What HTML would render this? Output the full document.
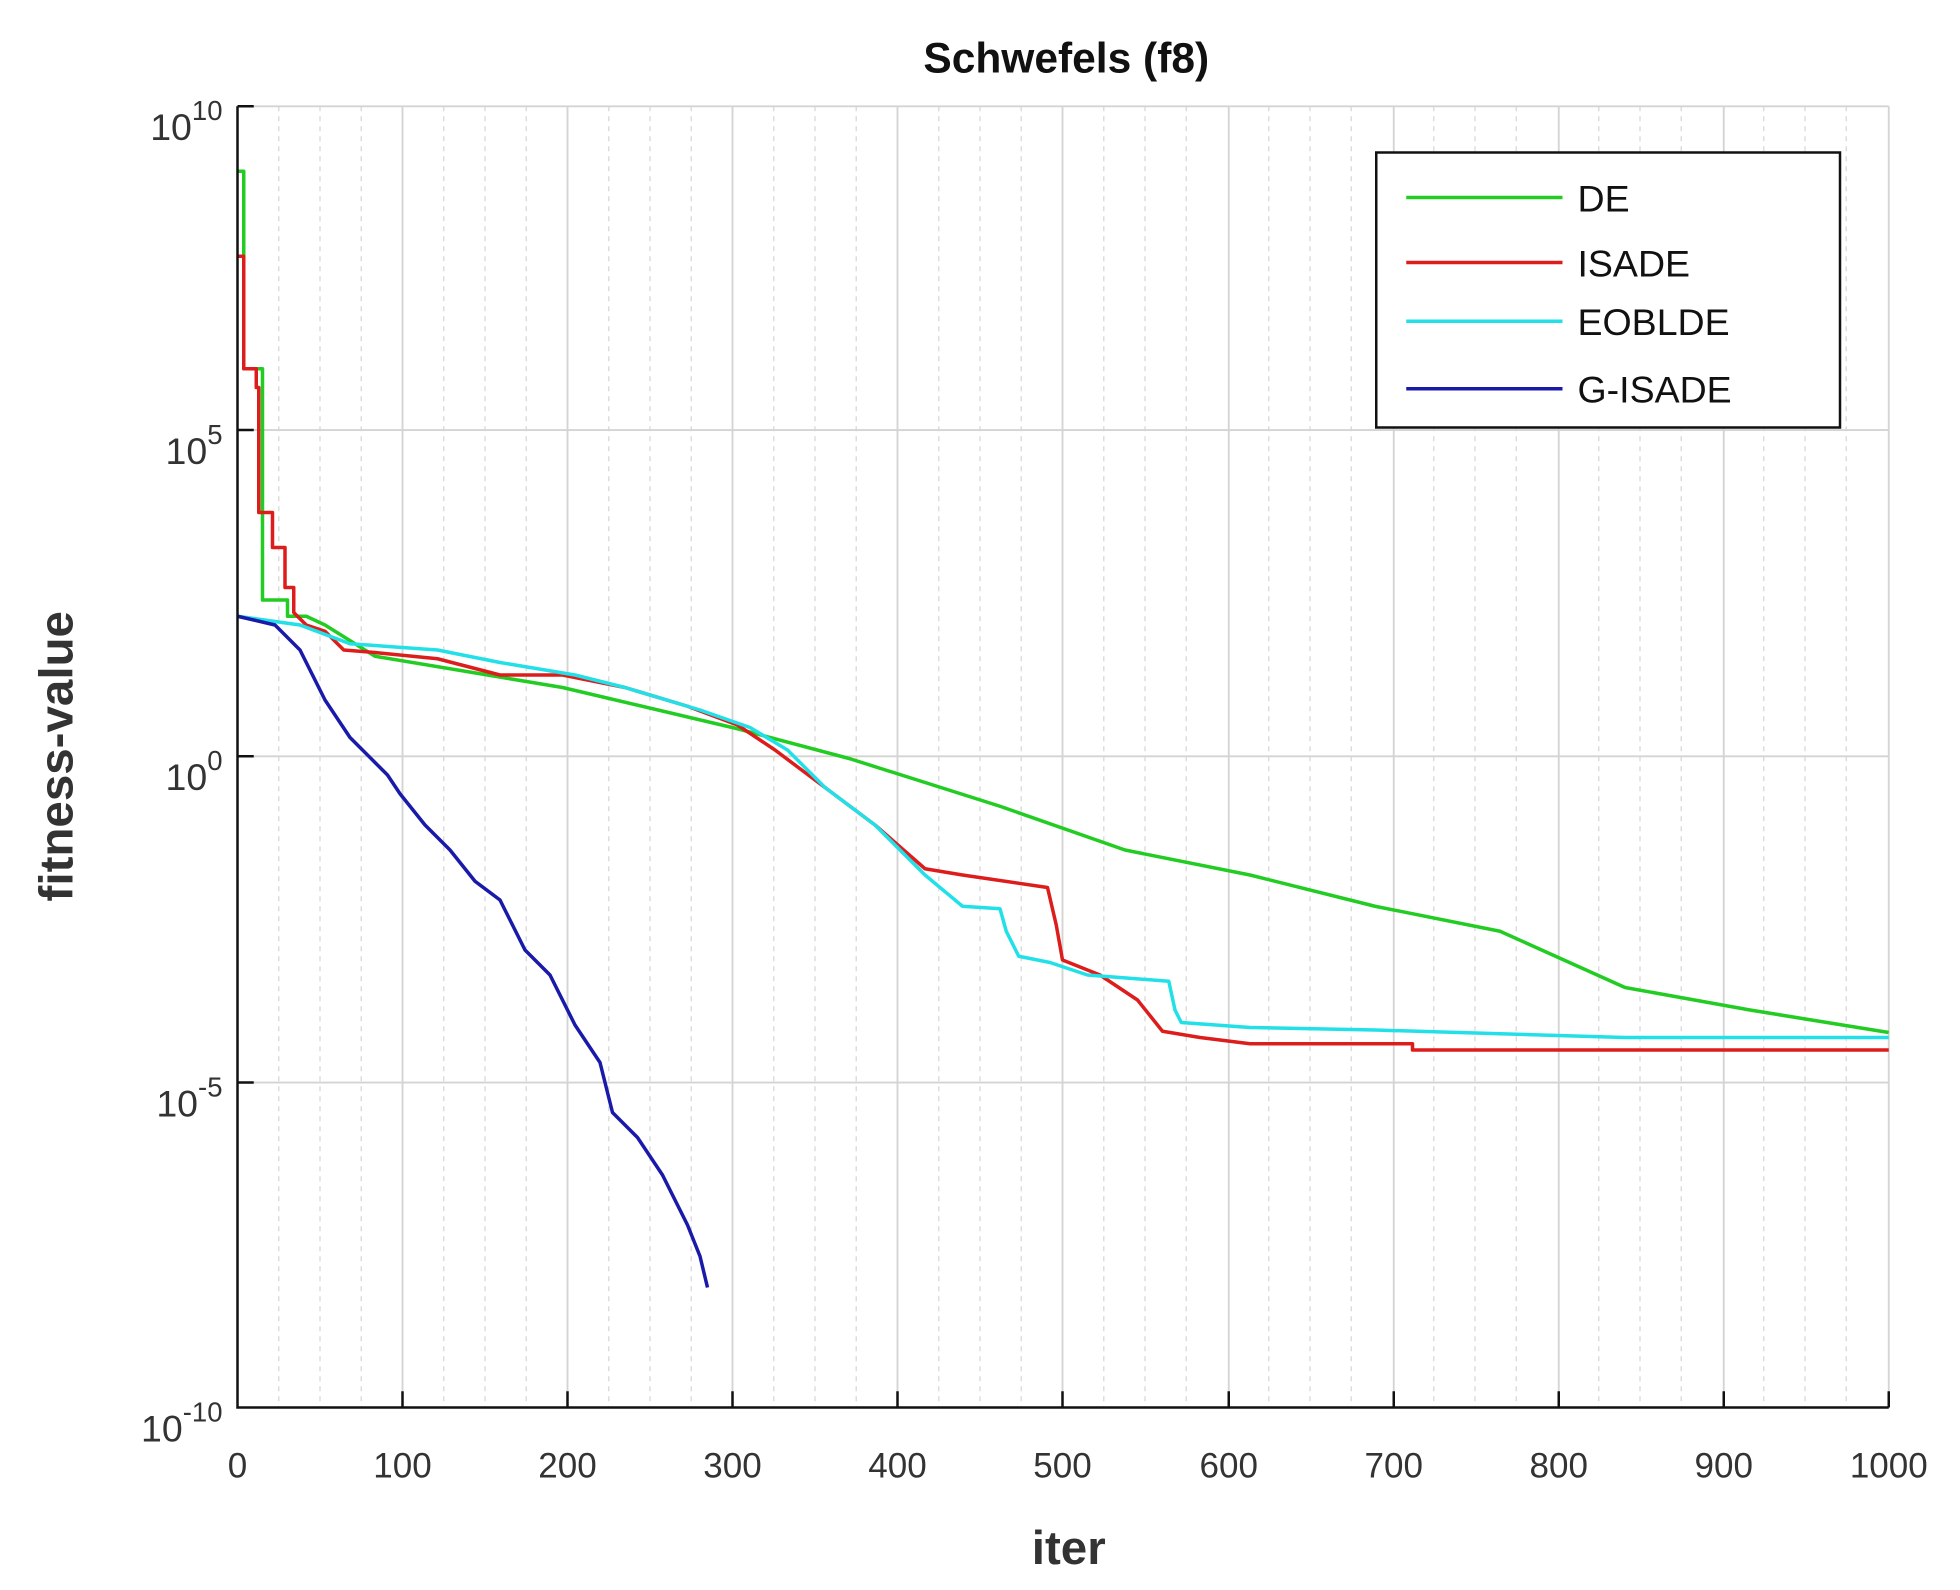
<!DOCTYPE html>
<html><head><style>html,body{margin:0;padding:0;background:#fff}svg{display:block}</style></head>
<body>
<svg width="1960" height="1590" viewBox="0 0 1568 1272" xmlns="http://www.w3.org/2000/svg" font-family="Liberation Sans, Arial, sans-serif">
<rect width="1568" height="1272" fill="#fff"/>
<g stroke="#ddd" stroke-width="1.2" stroke-dasharray="4,4">
<path d="M223 85V1126M256 85V1126M289 85V1126M355 85V1126M388 85V1126M421 85V1126M487 85V1126M520 85V1126M553 85V1126M619 85V1126M652 85V1126M685 85V1126M751 85V1126M784 85V1126M817 85V1126M883 85V1126M916 85V1126M949 85V1126M1015 85V1126M1048 85V1126M1081 85V1126M1147 85V1126M1180 85V1126M1213 85V1126M1279 85V1126M1312 85V1126M1345 85V1126M1411 85V1126M1444 85V1126M1477 85V1126"/>
</g>
<g stroke="#d4d4d4" stroke-width="1.5">
<path d="M322 85V1126M454 85V1126M586 85V1126M718 85V1126M850 85V1126M983 85V1126M1115 85V1126M1247 85V1126M1379 85V1126M1511 85V1126"/>
<path d="M190 85H1511M190 344H1511M190 605H1511M190 866H1511"/>
</g>
<g fill="none" stroke-width="2.8" stroke-linejoin="round">
<path stroke="#22cc22" d="M190 137H195V295H210V480H230V493H245L260 500L300 525L450 550L590 583L680 607L800 645L900 680L1000 700L1100 725L1200 745L1300 790L1400 808L1511 826"/>
<path stroke="#dd1c1c" d="M190 205H195V295H205V310H207V410H218V438H228V470H235V490L245 500L260 505L275 520L300 522L350 527L400 540L450 540L500 550L550 565L590 580L620 600L660 630L700 660L740 695L770 700L838 710L845 740L850 768L880 780L910 800L930 825L960 830L1000 835H1130V840H1511"/>
<path stroke="#22e0e8" d="M190 493L240 500L280 515L350 520L400 530L460 540L500 550L560 568L600 582L630 600L660 630L700 660L740 700L770 725L800 727L805 745L815 765L840 770L870 780L935 785L940 808L945 818L1000 822L1100 824L1200 827L1300 830H1511"/>
<path stroke="#1a1aaa" d="M190 493L220 500L240 520L260 560L280 590L300 610L310 620L320 635L340 660L360 680L380 705L400 720L420 760L440 780L460 820L480 850L490 890L510 910L530 940L550 980L560 1005L566 1030"/>
</g>
<g stroke="#111" stroke-width="2" fill="none">
<path d="M190 85V1126H1511"/>
<path d="M190 85H203M190 344H203M190 605H203M190 866H203"/>
<path d="M322 1126V1113M454 1126V1113M586 1126V1113M718 1126V1113M850 1126V1113M983 1126V1113M1115 1126V1113M1247 1126V1113M1379 1126V1113M1511 1126V1113"/>
</g>
<g font-size="28" fill="#333" text-anchor="middle">
<text x="190" y="1182">0</text><text x="322" y="1182">100</text><text x="454" y="1182">200</text><text x="586" y="1182">300</text><text x="718" y="1182">400</text><text x="850" y="1182">500</text><text x="983" y="1182">600</text><text x="1115" y="1182">700</text><text x="1247" y="1182">800</text><text x="1379" y="1182">900</text><text x="1511" y="1182">1000</text>
</g>
<g font-size="30" fill="#333" text-anchor="end">
<text x="178" y="112">10<tspan dy="-16" font-size="22">10</tspan></text>
<text x="178" y="371">10<tspan dy="-16" font-size="22">5</tspan></text>
<text x="178" y="632">10<tspan dy="-16" font-size="22">0</tspan></text>
<text x="178" y="893">10<tspan dy="-16" font-size="22">-5</tspan></text>
<text x="178" y="1153">10<tspan dy="-16" font-size="22">-10</tspan></text>
</g>
<text x="853" y="58" font-size="34" font-weight="bold" text-anchor="middle" fill="#111">Schwefels (f8)</text>
<text x="855" y="1251" font-size="38" font-weight="bold" text-anchor="middle" fill="#333">iter</text>
<text transform="translate(58 605) rotate(-90)" font-size="38" font-weight="bold" text-anchor="middle" fill="#333">fitness-value</text>
<rect x="1101" y="122" width="371" height="220" fill="#fff" stroke="#111" stroke-width="2"/>
<g stroke-width="2.8">
<line x1="1125" y1="158" x2="1250" y2="158" stroke="#22cc22"/>
<line x1="1125" y1="210" x2="1250" y2="210" stroke="#dd1c1c"/>
<line x1="1125" y1="257" x2="1250" y2="257" stroke="#22e0e8"/>
<line x1="1125" y1="311" x2="1250" y2="311" stroke="#1a1aaa"/>
</g>
<g font-size="30" fill="#111">
<text x="1262" y="169">DE</text><text x="1262" y="221">ISADE</text><text x="1262" y="268">EOBLDE</text><text x="1262" y="322">G-ISADE</text>
</g>
</svg>
</body></html>
